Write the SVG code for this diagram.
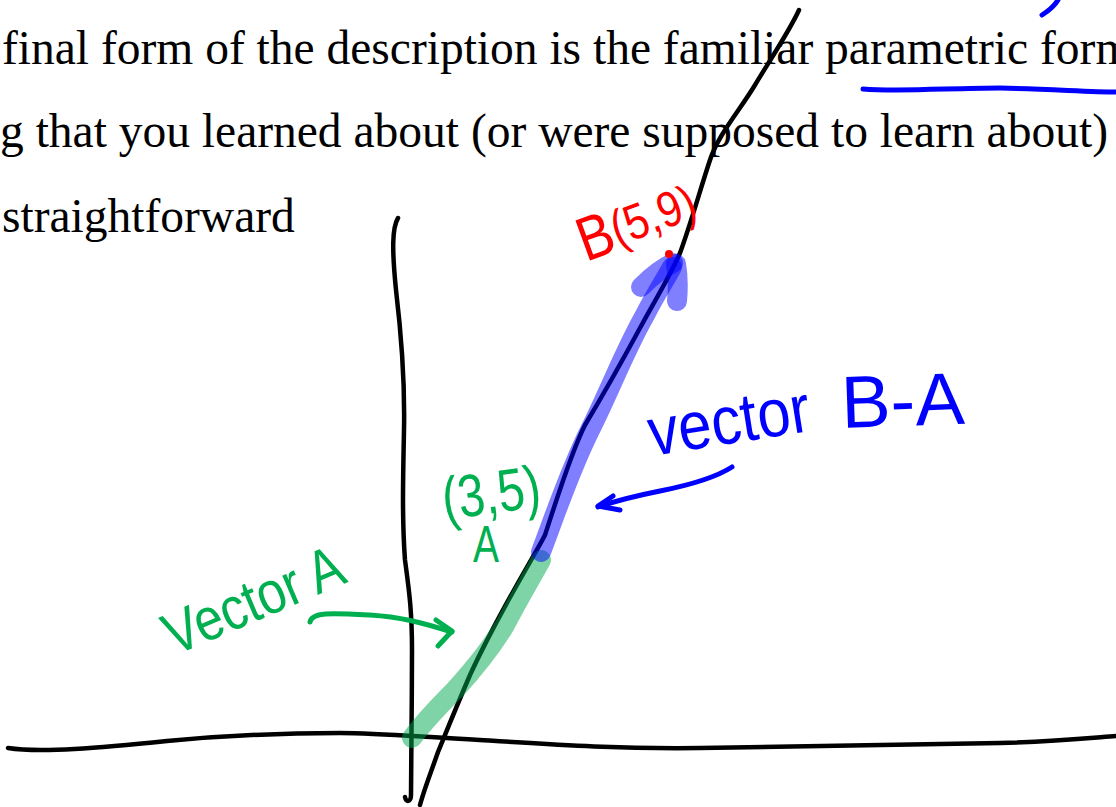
<svg xmlns="http://www.w3.org/2000/svg" width="1116" height="807" viewBox="0 0 1116 807">
  <style>
    .print { font-family: "Liberation Serif", "Times New Roman", serif; font-size: 47.5px; fill: #000; }
    .hand { font-family: "Liberation Sans", Arial, sans-serif; }
    .ink { fill: none; stroke-linecap: round; stroke-linejoin: round; }
    .black { stroke: #000; stroke-width: 4.5; }
    .hl { fill: none; stroke-linecap: round; stroke-linejoin: round; stroke-width: 20; opacity: 0.5; }
  </style>
  <rect width="1116" height="807" fill="#fff"/>

  <g id="printed-text">
    <text class="print" x="2" y="64">final form of the description is the familiar parametric form</text>
    <text class="print" x="0" y="147">g that you learned about (or were supposed to learn about)</text>
    <text class="print" x="2" y="232">straightforward</text>
  </g>

  <g id="axes">
    <path class="ink black" d="M8,748 C40,753 100,748 167,741 C220,736 290,733 340,733 C380,733 420,737 480,740 C560,745 620,749 700,748 C800,746 900,744 1000,743 C1050,742 1090,738 1116,736"/>
    <path class="ink black" d="M398,218 C392,228 392,250 396,290 C402,340 405,380 404,430 C403,480 402,520 405,560 C409,590 412,610 412,650 C412,700 411,760 411,795 C411,802 406,803 405,797"/>
  </g>

  <g id="line">
    <path class="ink black" d="M799,10 C790,30 770,60 755,85 C740,110 718,135 710,160 C700,190 692,220 680,253 C668,280 655,300 640,328 C620,365 600,400 585,425 C570,455 555,505 545,535 C535,555 500,610 470,675 C455,710 445,735 438,752 C430,775 424,790 420,805"/>
  </g>

  <g id="vector-A-highlight">
    <path class="hl" stroke="#00a950" d="M412,738 C425,720 440,705 455,690 C475,668 490,650 505,625 C518,600 530,580 541,560"/>
  </g>

  <g id="vector-BA-highlight">
    <path class="hl" stroke="#0000ff" d="M541,552 C555,515 570,470 590,430 C610,390 625,350 645,315 C655,295 665,280 672,267"/>
    <path class="hl" stroke="#0000ff" stroke-width="18" d="M641,287 C650,278 662,268 673,263"/>
    <path class="hl" stroke="#0000ff" d="M676,264 C678,275 678,290 677,301"/>
  </g>

  <g id="point-B">
    <circle cx="669" cy="254" r="4" fill="#ff0000"/>
    <text class="hand" fill="#ff0000" transform="translate(586,262) rotate(-20) scale(0.85,1)"><tspan font-size="62">B</tspan><tspan font-size="50" dy="-4">(5,9)</tspan></text>
  </g>

  <g id="point-A">
    <text class="hand" fill="#00b050" font-size="60" transform="translate(445,520) rotate(-8) scale(0.8,1)">(3,5)</text>
    <text class="hand" fill="#00b050" font-size="52" transform="translate(473,562) scale(0.75,1)">A</text>
  </g>

  <g id="label-vector-A">
    <text class="hand" fill="#00b050" font-size="60" transform="translate(174,656) rotate(-23) scale(0.85,1)">Vector A</text>
  </g>

  <g id="label-vector-BA">
    <text class="hand" fill="#0000ff" font-size="68" transform="translate(652,456) rotate(-9) scale(0.88,1)">vector</text>
    <text class="hand" fill="#0000ff" font-size="74" transform="translate(842,428) rotate(-2)">B-A</text>
  </g>

  <g id="connectors">
    <path class="ink" stroke="#00b050" stroke-width="5" d="M310,622 C312,612 330,613 370,615 C400,617 420,622 452,632"/>
    <path class="ink" stroke="#00b050" stroke-width="5" d="M436,620 L452,631 L438,646"/>
    <path class="ink" stroke="#0000ff" stroke-width="5" d="M732,467 C715,478 690,485 660,491 C635,496 615,501 598,507"/>
    <path class="ink" stroke="#0000ff" stroke-width="5" d="M613,496 L598,506 L620,510"/>
  </g>

  <g id="annotations">
    <path class="ink" stroke="#0000ff" stroke-width="5" d="M863,89 C900,92 950,88 1000,88 C1050,89 1090,92 1116,92"/>
    <path class="ink" stroke="#0000ff" stroke-width="5" d="M1042,15 C1050,10 1055,5 1058,0"/>
  </g>
</svg>
